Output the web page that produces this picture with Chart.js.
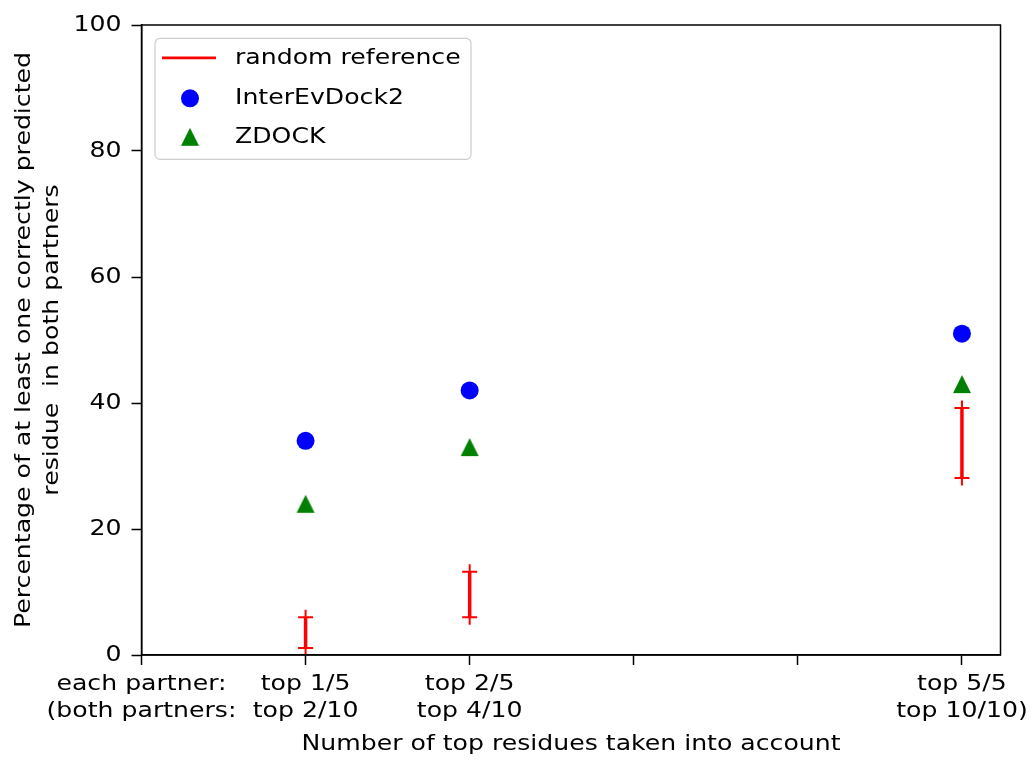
<!DOCTYPE html>
<html>
<head>
<meta charset="utf-8">
<script src="https://cdn.jsdelivr.net/npm/chart.js@4/dist/chart.umd.min.js"></script>
<style>
  html, body { margin: 0; padding: 0; background: #fff; }
  #wrap { width: 1031px; height: 760px; }
</style>
</head>
<body>
<div id="wrap"><canvas id="c" width="1031" height="760"></canvas></div>
<script>
// ---- data ----
const xPositions = [1, 2, 5];
const xTickValues = [0, 1, 2, 3, 4, 5];
const xTickLabels = [
  ['each partner:', '(both partners:'],
  ['top 1/5', 'top 2/10'],
  ['top 2/5', 'top 4/10'],
  '',
  '',
  ['top 5/5', 'top 10/10)']
];
const yTickValues = [0, 20, 40, 60, 80, 100];
const interEvDock2 = [34, 42, 51];
const zdock = [24, 33, 43];
const randomLow = [1.1, 6, 28.1];
const randomHigh = [6, 13.2, 39.2];
const seriesNames = ['random reference', 'InterEvDock2', 'ZDOCK'];
const xTitle = 'Number of top residues taken into account';
const yTitle = ['Percentage of at least one correctly predicted', 'residue  in both partners'];

// ---- styling ----
const FONT = 'DejaVu Sans';
const FONT_SIZE = 21.5;
const TEXT_STRETCH = 1.17;   // glyphs are drawn wider than tall
const RED = '#ff0000', BLUE = '#0000ff', GREEN = '#008000';

// upward triangle marker, as wide as it is tall
function triangleMarker(size, color) {
  const pad = 2;
  const c = document.createElement('canvas');
  c.width = c.height = size + 2 * pad;
  const g = c.getContext('2d');
  g.fillStyle = color;
  g.beginPath();
  g.moveTo(pad + size / 2, pad);
  g.lineTo(pad + size, pad + size);
  g.lineTo(pad, pad + size);
  g.closePath();
  g.fill();
  return c;
}
const triangle = triangleMarker(18, GREEN);

// error-bar style segments, separated by gaps
const randomSegments = [];
xPositions.forEach((x, i) => {
  randomSegments.push({x: x, y: randomLow[i]}, {x: x, y: randomHigh[i]}, {x: x, y: null});
});

const ctx = document.getElementById('c').getContext('2d');

// widen all text horizontally around its anchor point
const baseFill = ctx.fillText.bind(ctx);
const baseMeasure = ctx.measureText.bind(ctx);
ctx.fillText = function (text, x, y, maxWidth) {
  this.save();
  this.translate(x, y);
  this.scale(TEXT_STRETCH, 1);
  if (maxWidth === undefined || maxWidth === null) baseFill(text, 0, 0);
  else baseFill(text, 0, 0, maxWidth / TEXT_STRETCH);
  this.restore();
};
ctx.measureText = function (text) {
  const m = baseMeasure(text);
  return {
    width: m.width * TEXT_STRETCH,
    actualBoundingBoxAscent: m.actualBoundingBoxAscent,
    actualBoundingBoxDescent: m.actualBoundingBoxDescent,
    actualBoundingBoxLeft: m.actualBoundingBoxLeft * TEXT_STRETCH,
    actualBoundingBoxRight: m.actualBoundingBoxRight * TEXT_STRETCH
  };
};

// closes the axes frame on the top and right
const framePlugin = {
  id: 'frame',
  afterDraw(chart) {
    const a = chart.chartArea, g = chart.ctx;
    g.save();
    g.strokeStyle = '#000';
    g.lineWidth = 1.5;
    g.strokeRect(a.left, a.top, a.right - a.left, a.bottom - a.top);
    g.restore();
  }
};

// legend box inside the plot area
const boxLegend = {
  id: 'boxLegend',
  afterDraw(chart) {
    const a = chart.chartArea, g = chart.ctx;
    const ds = chart.data.datasets;
    const bx = a.left + 13.5, by = a.top + 13.3, bw = 316, bh = 121, r = 5;
    g.save();
    g.beginPath();
    g.moveTo(bx + r, by);
    g.arcTo(bx + bw, by, bx + bw, by + bh, r);
    g.arcTo(bx + bw, by + bh, bx, by + bh, r);
    g.arcTo(bx, by + bh, bx, by, r);
    g.arcTo(bx, by, bx + bw, by, r);
    g.closePath();
    g.fillStyle = 'rgba(255,255,255,0.8)';
    g.fill();
    g.strokeStyle = '#cccccc';
    g.lineWidth = 1.2;
    g.stroke();

    const rows = [by + 20.5, by + 60, by + 99.5];
    const hx = bx + 35;
    const tx = bx + 80;

    // line handle
    g.strokeStyle = ds[0].borderColor;
    g.lineWidth = 2.7;
    g.beginPath();
    g.moveTo(bx + 7, rows[0] - 1);
    g.lineTo(bx + 61, rows[0] - 1);
    g.stroke();

    // circle handle
    g.fillStyle = ds[1].backgroundColor;
    g.beginPath();
    g.arc(hx, rows[1], ds[1].pointRadius, 0, Math.PI * 2);
    g.fill();

    // triangle handle
    const t = ds[2].pointStyle;
    g.drawImage(t, hx - t.width / 2, rows[2] - t.height / 2 - 1);

    g.fillStyle = '#000';
    g.font = FONT_SIZE + 'px "' + FONT + '"';
    g.textAlign = 'left';
    g.textBaseline = 'middle';
    ds.forEach((d, i) => g.fillText(d.label, tx, rows[i]));
    g.restore();
  }
};

const axisFont = {family: FONT, size: FONT_SIZE};

new Chart(ctx, {
  type: 'scatter',
  data: {
    datasets: [
      {
        label: seriesNames[0],
        data: randomSegments,
        showLine: true,
        spanGaps: false,
        borderColor: RED,
        borderWidth: 3.5,
        backgroundColor: RED,
        pointStyle: 'cross',
        pointRadius: 7.5,
        pointHoverRadius: 7.5,
        pointBorderColor: RED,
        pointBorderWidth: 2
      },
      {
        label: seriesNames[1],
        data: xPositions.map((x, i) => ({x: x, y: interEvDock2[i]})),
        pointStyle: 'circle',
        pointRadius: 9,
        pointHoverRadius: 9,
        backgroundColor: BLUE,
        borderColor: BLUE,
        pointBorderWidth: 0
      },
      {
        label: seriesNames[2],
        data: xPositions.map((x, i) => ({x: x, y: zdock[i]})),
        pointStyle: triangle,
        backgroundColor: GREEN,
        borderColor: GREEN
      }
    ]
  },
  options: {
    responsive: false,
    devicePixelRatio: 1,
    animation: false,
    events: [],
    layout: {padding: {left: 0, top: 25, right: 30.5, bottom: 0}},
    plugins: {legend: {display: false}, tooltip: {enabled: false}},
    scales: {
      x: {
        type: 'linear',
        position: 'bottom',
        min: 0,
        max: 5.235,
        afterBuildTicks: s => { s.ticks = xTickValues.map(v => ({value: v})); },
        afterFit: s => { s.height = 105; s.paddingLeft = 0; s.paddingRight = 0; },
        ticks: {
          autoSkip: false,
          maxRotation: 0,
          minRotation: 0,
          padding: 6,
          color: '#000',
          font: {family: FONT, size: FONT_SIZE, lineHeight: 1.26},
          callback: v => {
            const i = xTickValues.indexOf(v);
            return i >= 0 ? xTickLabels[i] : '';
          }
        },
        grid: {display: true, drawOnChartArea: false, drawTicks: true, tickLength: 10, tickWidth: 1.5, tickColor: '#000'},
        border: {display: true, color: '#000', width: 1.5},
        title: {
          display: true,
          text: xTitle,
          color: '#000',
          font: {family: FONT, size: FONT_SIZE, lineHeight: 1.2},
          padding: {top: 0, bottom: 3}
        }
      },
      y: {
        type: 'linear',
        position: 'left',
        min: 0,
        max: 100,
        afterBuildTicks: s => { s.ticks = yTickValues.map(v => ({value: v})); },
        afterFit: s => { s.width = 141.5; s.paddingTop = 0; s.paddingBottom = 0; },
        ticks: {padding: 10, color: '#000', font: axisFont},
        grid: {display: true, drawOnChartArea: false, drawTicks: true, tickLength: 10, tickWidth: 1.5, tickColor: '#000'},
        border: {display: true, color: '#000', width: 1.5},
        title: {
          display: true,
          text: yTitle,
          color: '#000',
          font: {family: FONT, size: FONT_SIZE, lineHeight: 1.32},
          padding: {top: 10, bottom: 0}
        }
      }
    }
  },
  plugins: [framePlugin, boxLegend]
});
</script>
</body>
</html>
